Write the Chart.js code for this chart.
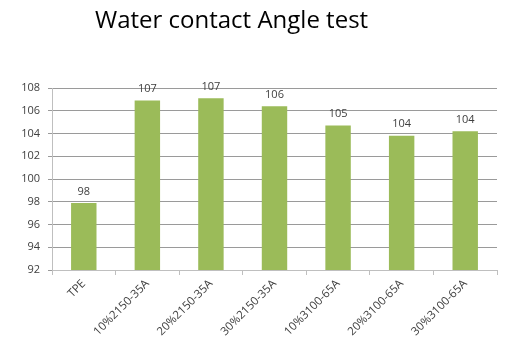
<!DOCTYPE html>
<html>
<head>
<meta charset="utf-8">
<script src="https://cdn.jsdelivr.net/npm/chart.js@4/dist/chart.umd.min.js"></script>
<style>
  html, body { margin: 0; padding: 0; background: #ffffff; }
  #wrap { position: relative; width: 510px; height: 345px; }
  #title { position: absolute; left: 95px; top: 3px; margin: 0; font-family: "Open Sans", "Noto Sans", sans-serif; font-weight: normal; font-size: 24px; line-height: 32px; color: #000; white-space: nowrap; }
  canvas { position: absolute; left: 0; top: 0; }
</style>
</head>
<body>
<div id="wrap">
  <canvas id="c" width="510" height="345"></canvas>
  <div id="title">Water contact Angle test</div>
</div>
<script>
const categories = ["TPE", "10%2150-35A", "20%2150-35A", "30%2150-35A", "10%3100-65A", "20%3100-65A", "30%3100-65A"];
const angleValues = [97.9, 106.9, 107.1, 106.4, 104.7, 103.8, 104.2];
const angleLabels = ["98", "107", "107", "106", "105", "104", "104"];
const yTicks = [92, 94, 96, 98, 100, 102, 104, 106, 108];

const valueLabelPlugin = {
  id: 'valueLabels',
  afterDatasetsDraw(chart) {
    const ctx = chart.ctx;
    const meta = chart.getDatasetMeta(0);
    ctx.save();
    ctx.font = '11px "Open Sans", "Noto Sans", sans-serif';
    ctx.fillStyle = '#404040';
    ctx.textAlign = 'center';
    ctx.textBaseline = 'bottom';
    meta.data.forEach((bar, i) => {
      ctx.fillText(angleLabels[i], bar.x, bar.y - 6);
    });
    ctx.restore();
  }
};

new Chart(document.getElementById('c'), {
  type: 'bar',
  data: {
    labels: categories,
    datasets: [{
      data: angleValues,
      backgroundColor: '#9BBB59',
      borderWidth: 0,
      barPercentage: 0.8,
      categoryPercentage: 0.5
    }]
  },
  options: {
    responsive: false,
    animation: false,
    events: [],
    layout: { padding: { top: 88, right: 13, left: 0, bottom: 0 } },
    plugins: { legend: { display: false }, tooltip: { enabled: false }, title: { display: false } },
    scales: {
      x: {
        grid: { display: true, drawOnChartArea: false, drawTicks: true, tickLength: 5, offset: true, color: '#bfbfbf' },
        border: { color: '#bfbfbf' },
        ticks: {
          maxRotation: 45, minRotation: 45, autoSkip: false,
          font: { family: '"Open Sans", "Noto Sans", sans-serif', size: 11.5 },
          color: '#404040', padding: 2
        },
        afterFit(s) { s.height = 75; }
      },
      y: {
        min: 92, max: 108,
        afterBuildTicks(s) { s.ticks = yTicks.map(v => ({ value: v })); },
        grid: { color: '#9a9a9a', drawTicks: true, tickLength: 4 },
        border: { color: '#bfbfbf' },
        ticks: {
          font: { family: '"Open Sans", "Noto Sans", sans-serif', size: 11 },
          color: '#404040', padding: 8
        },
        afterFit(s) { s.width = 52; }
      }
    }
  },
  plugins: [valueLabelPlugin]
});
</script>
</body>
</html>
